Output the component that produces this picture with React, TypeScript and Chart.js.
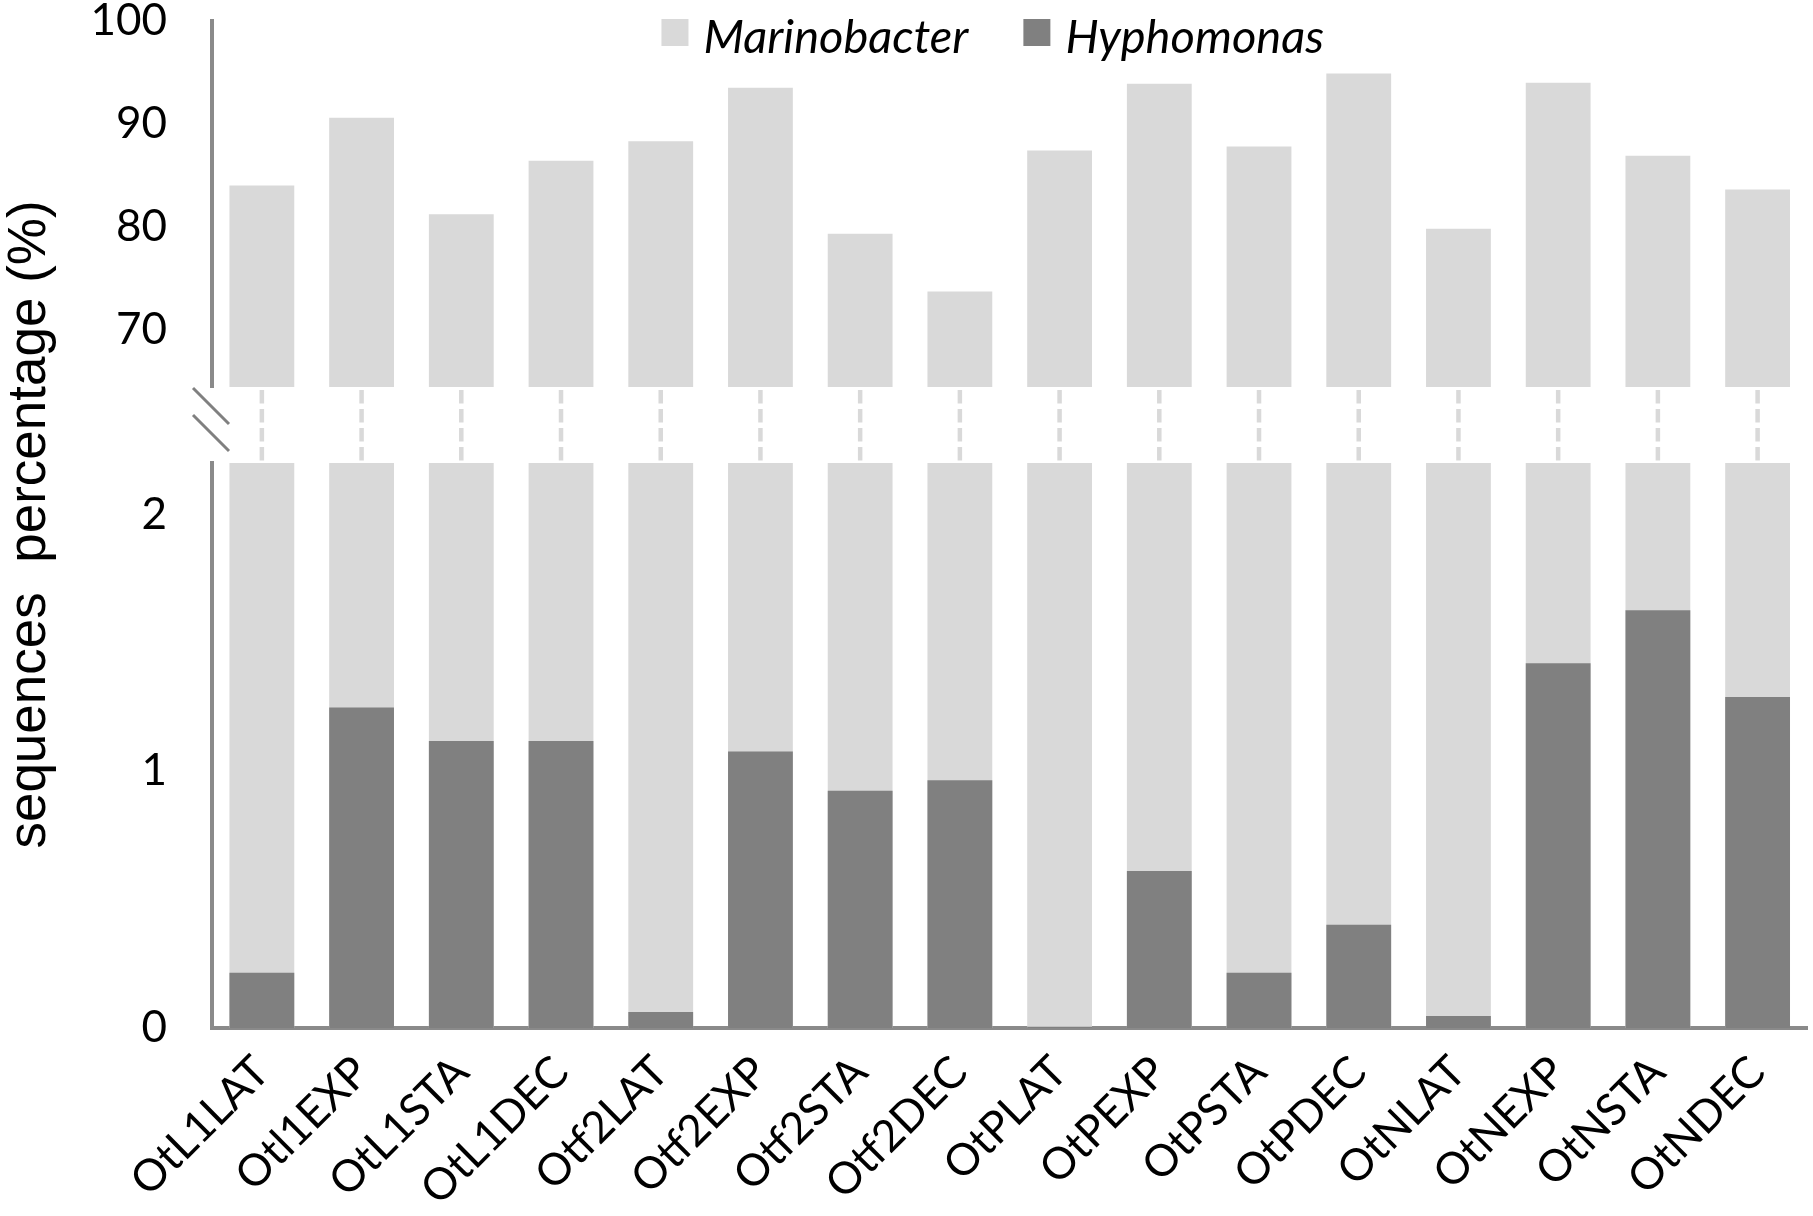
import { useEffect, useRef } from 'react';
import Chart from 'chart.js/auto';

// samples on the x axis
const samples = [
  'OtL1LAT', 'Otl1EXP', 'OtL1STA', 'OtL1DEC',
  'Otf2LAT', 'Otf2EXP', 'Otf2STA', 'Otf2DEC',
  'OtPLAT', 'OtPEXP', 'OtPSTA', 'OtPDEC',
  'OtNLAT', 'OtNEXP', 'OtNSTA', 'OtNDEC',
];

// sequences percentage (%)
const marinobacter = [84.0, 90.6, 81.2, 86.4, 88.3, 93.5, 79.3, 73.7, 87.4, 93.9, 87.8, 94.9, 79.8, 94.0, 86.9, 83.6];
const hyphomonas = [0.215, 1.248, 1.118, 1.118, 0.062, 1.077, 0.924, 0.965, 0.005, 0.611, 0.215, 0.402, 0.047, 1.42, 1.627, 1.289];

const upperTicks = [70, 80, 90, 100];
const lowerTicks = [0, 1, 2];

const seriesNames = ['Marinobacter', 'Hyphomonas'];

const LIGHT = '#d9d9d9';
const DARK = '#808080';
const AXIS = '#8a8a8a';
const yTitle = 'sequences  percentage (%)';

// same width for all stacked y axes, no extra padding for the end labels
const fixY = (s: any) => {
  s.width = 212;
  s.paddingTop = 0;
  s.paddingBottom = 0;
};

// dashed connectors and break marks between the two panels
const splitPlugin = {
  id: 'split',
  afterDatasetsDraw(chart: any) {
    const { ctx } = chart;
    const x = chart.scales.x;
    const top = chart.scales.yTop;
    const bot = chart.scales.yBot;
    ctx.save();
    ctx.strokeStyle = LIGHT;
    ctx.lineWidth = 4.5;
    ctx.setLineDash([13.5, 5.5]);
    samples.forEach((_, i) => {
      const px = x.getPixelForValue(i);
      ctx.beginPath();
      ctx.moveTo(px, top.bottom + 3);
      ctx.lineTo(px, bot.top - 2);
      ctx.stroke();
    });
    ctx.setLineDash([]);
    ctx.strokeStyle = DARK;
    ctx.lineWidth = 3;
    const ax = chart.chartArea.left;
    [top.bottom + 1, top.bottom + 28].forEach((y0) => {
      ctx.beginPath();
      ctx.moveTo(ax - 19, y0);
      ctx.lineTo(ax + 17, y0 + 36);
      ctx.stroke();
    });
    ctx.restore();
  },
};

// legend inside the plot + y axis title spanning both panels
const labelsPlugin = {
  id: 'labels',
  afterDraw(chart: any) {
    const { ctx, chartArea } = chart;
    ctx.save();

    ctx.font = 'italic 47px Lato';
    ctx.textBaseline = 'alphabetic';
    ctx.textAlign = 'left';
    const colors = [LIGHT, DARK];
    const box = 27;
    const gap = 15;
    const between = 55;
    const widths = seriesNames.map((n) => ctx.measureText(n).width);
    const total = widths.reduce((a, w) => a + box + gap + w, 0) + between * (seriesNames.length - 1);
    let cx = (chartArea.left + chartArea.right) / 2 - 17 - total / 2;
    seriesNames.forEach((name, i) => {
      ctx.fillStyle = colors[i];
      ctx.fillRect(cx, 19, box, box);
      ctx.fillStyle = '#000';
      ctx.fillText(name, cx + box + gap, 53);
      cx += box + gap + widths[i] + between;
    });

    ctx.font = '53px "Liberation Sans"';
    ctx.textAlign = 'center';
    ctx.translate(45, (chartArea.top + chartArea.bottom) / 2);
    ctx.rotate(-Math.PI / 2);
    ctx.fillText(yTitle, 0, 0);
    ctx.restore();
  },
};

const tickFont = { family: 'Lato', size: 44 };

const App = () => {
  const chartRef = useRef<HTMLCanvasElement>(null);

  useEffect(() => {
    if (!chartRef.current) return;
    const chart = new Chart(chartRef.current, {
      type: 'bar',
      data: {
        labels: samples,
        datasets: [
          { label: seriesNames[1], data: hyphomonas, backgroundColor: DARK, yAxisID: 'yBot', order: 0, barPercentage: 0.65, categoryPercentage: 1 },
          { label: seriesNames[0], data: marinobacter, backgroundColor: LIGHT, yAxisID: 'yBot', order: 1, barPercentage: 0.65, categoryPercentage: 1 },
          { label: seriesNames[0], data: marinobacter, backgroundColor: LIGHT, yAxisID: 'yTop', order: 1, barPercentage: 0.65, categoryPercentage: 1 },
        ],
      },
      options: {
        animation: false,
        responsive: true,
        maintainAspectRatio: false,
        layout: { padding: { top: 21, right: 2, left: 0, bottom: 0 } },
        plugins: { legend: { display: false }, tooltip: { enabled: false } },
        scales: {
          x: {
            stacked: true,
            grid: { display: false, drawTicks: false },
            border: { color: AXIS, width: 4 },
            ticks: { autoSkip: false, minRotation: 45, maxRotation: 45, color: '#000', font: tickFont, padding: 18 },
            afterFit: (s: any) => {
              s.height = 188;
            },
          },
          yBot: {
            type: 'linear',
            position: 'left',
            stack: 'split',
            stackWeight: 565,
            min: 0,
            max: 2.2,
            grid: { display: false, drawTicks: false },
            border: { color: AXIS, width: 4 },
            ticks: { color: '#000', font: tickFont, padding: 45 },
            afterBuildTicks: (s: any) => {
              s.ticks = lowerTicks.map((value) => ({ value }));
            },
            afterFit: fixY,
          },
          yGap: {
            type: 'linear',
            position: 'left',
            stack: 'split',
            stackWeight: 76,
            grid: { display: false, drawTicks: false },
            border: { display: false },
            ticks: { display: false },
            afterFit: fixY,
          },
          yTop: {
            type: 'linear',
            position: 'left',
            stack: 'split',
            stackWeight: 366,
            min: 64.4,
            max: 100,
            grid: { display: false, drawTicks: false },
            border: { color: AXIS, width: 4 },
            ticks: { color: '#000', font: tickFont, padding: 45 },
            afterBuildTicks: (s: any) => {
              s.ticks = upperTicks.map((value) => ({ value }));
            },
            afterFit: fixY,
          },
        },
      },
      plugins: [splitPlugin, labelsPlugin],
    });

    return () => {
      chart.destroy();
    };
  }, []);

  return (
    <div style={{ position: 'absolute', left: 0, top: 0, width: 1813, height: 1216, background: '#fff' }}>
      <canvas ref={chartRef} />
    </div>
  );
};

export default App;
